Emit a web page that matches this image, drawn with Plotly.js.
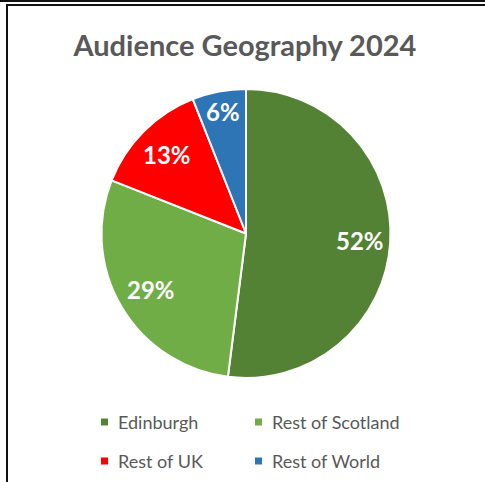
<!DOCTYPE html>
<html>
<head>
<meta charset="utf-8">
<script src="https://cdn.plot.ly/plotly-3.0.1.min.js"></script>
<style>
  html, body { margin: 0; padding: 0; background: #ffffff; }
  #wrap { position: relative; width: 485px; height: 482px; overflow: hidden; }
  #chart { position: absolute; left: 0; top: 0; width: 485px; height: 482px; }
  .ln { position: absolute; background: #111111; pointer-events: none; }
</style>
</head>
<body>
<div id="wrap">
  <div id="chart"></div>
  <div class="ln" style="left:0; top:0; width:485px; height:2px;"></div>
  <div class="ln" style="left:6px; top:4px; width:479px; height:2px;"></div>
  <div class="ln" style="left:6px; top:4px; width:2px; height:478px;"></div>
</div>
<script>
const categories = ["Edinburgh", "Rest of Scotland", "Rest of UK", "Rest of World"];
const shares = [52, 29, 13, 6];
const colors = ["#548235", "#70AD47", "#FF0000", "#2E75B6"];
const titleText = "Audience Geography 2024";

const W = 485, H = 482;
const px = v => v / W;
const py = v => 1 - v / H;

// pie geometry (pixels)
const cx = 246, cy = 233.5, R = 144.5;
// label radial placement (fraction of radius), Excel "best fit"-like
const labelR = [0.79, 0.76, 0.77, 0.86];

const trace = {
  type: "pie",
  labels: categories,
  values: shares,
  sort: false,
  direction: "clockwise",
  rotation: 0,
  marker: { colors: colors, line: { color: "#ffffff", width: 2 } },
  textinfo: "none",
  hoverinfo: "label+percent",
  domain: { x: [px(cx - R), px(cx + R)], y: [py(cy + R), py(cy - R)] },
  showlegend: false
};

const font = "Lato, 'Open Sans', sans-serif";
const annotations = [];
const shapes = [];

// Data labels computed from the shares
const total = shares.reduce((a, b) => a + b, 0);
let cum = 0;
shares.forEach((v, i) => {
  const th = (cum + v / 2) / total * 2 * Math.PI;
  cum += v;
  const r = R * labelR[i];
  const x = cx + r * Math.sin(th), y = cy - r * Math.cos(th);
  annotations.push({
    xref: "paper", yref: "paper", x: px(x), y: py(y),
    xanchor: "center", yanchor: "middle", showarrow: false,
    text: Math.round(v / total * 100) + "%",
    font: { family: font, size: 24, color: "#ffffff", weight: "bold" }
  });
});

// Legend built from categories & colors (2 columns)
const legCols = [117, 271];
const legRows = [422, 461];
categories.forEach((c, i) => {
  const col = i % 2, row = Math.floor(i / 2);
  const tx = legCols[col], ty = legRows[row];
  annotations.push({
    xref: "paper", yref: "paper", x: px(tx - 1), y: py(ty),
    xanchor: "left", yanchor: "middle", showarrow: false,
    text: c, font: { family: font, size: 18, color: "#595959" }
  });
  shapes.push({
    type: "rect", xref: "paper", yref: "paper",
    x0: px(tx - 16), x1: px(tx - 9), y0: py(ty + 3.5), y1: py(ty - 3.5),
    fillcolor: colors[i], line: { width: 0 }
  });
});

const layout = {
  width: W, height: H,
  margin: { l: 0, r: 0, t: 0, b: 0 },
  paper_bgcolor: "#ffffff",
  title: {
    text: titleText,
    font: { family: font, size: 29, color: "#595959", weight: "bold" },
    x: 0.505, xanchor: "center", y: py(46), yanchor: "middle", yref: "paper"
  },
  annotations: annotations,
  shapes: shapes,
  showlegend: false
};

Plotly.newPlot("chart", [trace], layout, { displayModeBar: false, staticPlot: true });
</script>
</body>
</html>
